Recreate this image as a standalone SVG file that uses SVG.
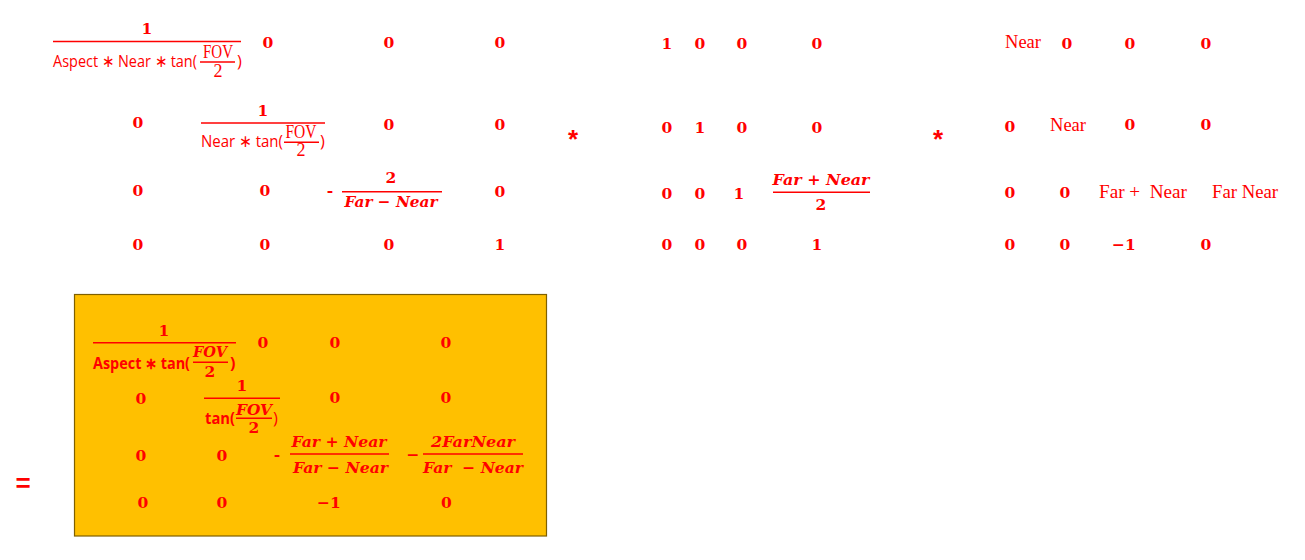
<svg xmlns="http://www.w3.org/2000/svg" width="1305" height="560" viewBox="0 0 1305 560">
<style>
text{fill:#FF0000;}
.d{font-family:"DejaVu Serif",serif;font-weight:bold;font-size:15.5px;text-anchor:middle;}
.r{font-family:"Liberation Serif",serif;font-size:18px;}
.s{font-family:"Open Sans","Noto Sans",sans-serif;font-size:16.5px;}
.sb{font-family:"Open Sans","Noto Sans",sans-serif;font-size:16px;font-weight:bold;}
.i{font-family:"DejaVu Serif",serif;font-weight:bold;font-style:italic;font-size:15.5px;text-anchor:middle;}
.f{stroke:#FF0000;stroke-width:1.5;fill:none;}
.op{font-family:"Liberation Sans",sans-serif;font-weight:bold;font-size:26px;text-anchor:middle;}
</style>
<rect width="1305" height="560" fill="#FFFFFF"/>

<g id="matrix-perspective">
  <text class="d" x="147" y="33.5">1</text>
  <line class="f" x1="53" y1="41.5" x2="241" y2="41.5"/>
  <text class="s" x="53" y="67" textLength="144" lengthAdjust="spacingAndGlyphs">Aspect ∗ Near ∗ tan(</text>
  <text class="r" x="218" y="57.5" text-anchor="middle" textLength="30" lengthAdjust="spacingAndGlyphs">FOV</text>
  <line class="f" x1="200" y1="62" x2="235" y2="62"/>
  <text class="r" x="218" y="77" text-anchor="middle">2</text>
  <text class="s" x="237" y="67">)</text>
  <text class="d" x="268" y="47.5">0</text>
  <text class="d" x="389" y="47.5">0</text>
  <text class="d" x="500" y="47.5">0</text>

  <text class="d" x="138" y="127.5">0</text>
  <text class="d" x="263" y="116">1</text>
  <line class="f" x1="201" y1="123" x2="325" y2="123"/>
  <text class="s" x="201" y="147" textLength="82" lengthAdjust="spacingAndGlyphs">Near ∗ tan(</text>
  <text class="r" x="301" y="137.5" text-anchor="middle" textLength="31" lengthAdjust="spacingAndGlyphs">FOV</text>
  <line class="f" x1="284" y1="142.3" x2="319" y2="142.3"/>
  <text class="r" x="301" y="156" text-anchor="middle">2</text>
  <text class="s" x="320" y="147">)</text>
  <text class="d" x="389" y="129.5">0</text>
  <text class="d" x="500" y="129.5">0</text>

  <text class="d" x="138" y="195.5">0</text>
  <text class="d" x="265" y="195.5">0</text>
  <text class="d" x="330" y="196">-</text>
  <text class="d" x="391" y="183">2</text>
  <line class="f" x1="342" y1="191.7" x2="442" y2="191.7"/>
  <text class="i" x="391" y="206.5" textLength="93" lengthAdjust="spacingAndGlyphs">Far − Near</text>
  <text class="d" x="500" y="196.5">0</text>

  <text class="d" x="138" y="249.5">0</text>
  <text class="d" x="265" y="249.5">0</text>
  <text class="d" x="389" y="249.5">0</text>
  <text class="d" x="500" y="249.5">1</text>
</g>

<g id="op-mul-1"><text class="op" x="573" y="148">*</text></g>

<g id="matrix-translate">
  <text class="d" x="667" y="49">1</text>
  <text class="d" x="700" y="49">0</text>
  <text class="d" x="742" y="49">0</text>
  <text class="d" x="817" y="49">0</text>

  <text class="d" x="667" y="133">0</text>
  <text class="d" x="700" y="133">1</text>
  <text class="d" x="742" y="133">0</text>
  <text class="d" x="817" y="133">0</text>

  <text class="d" x="667" y="198.5">0</text>
  <text class="d" x="700" y="198.5">0</text>
  <text class="d" x="739" y="198.5">1</text>
  <text class="i" x="821" y="185" textLength="97" lengthAdjust="spacingAndGlyphs">Far + Near</text>
  <line class="f" x1="773" y1="192.3" x2="870" y2="192.3"/>
  <text class="d" x="821" y="210">2</text>

  <text class="d" x="667" y="249.5">0</text>
  <text class="d" x="700" y="249.5">0</text>
  <text class="d" x="742" y="249.5">0</text>
  <text class="d" x="817" y="249.5">1</text>
</g>

<g id="op-mul-2"><text class="op" x="938" y="148">*</text></g>

<g id="matrix-scale">
  <text class="r" x="1005" y="48.3" textLength="36" lengthAdjust="spacingAndGlyphs">Near</text>
  <text class="d" x="1067" y="48.5">0</text>
  <text class="d" x="1130" y="48.5">0</text>
  <text class="d" x="1206" y="48.5">0</text>

  <text class="d" x="1010" y="131.5">0</text>
  <text class="r" x="1050" y="131" textLength="36" lengthAdjust="spacingAndGlyphs">Near</text>
  <text class="d" x="1130" y="129.5">0</text>
  <text class="d" x="1206" y="129.5">0</text>

  <text class="d" x="1010" y="198">0</text>
  <text class="d" x="1065" y="198">0</text>
  <text class="r" x="1099" y="198" xml:space="preserve" textLength="88" lengthAdjust="spacingAndGlyphs">Far +  Near</text>
  <text class="r" x="1212" y="198" textLength="66" lengthAdjust="spacingAndGlyphs">Far Near</text>

  <text class="d" x="1010" y="249.5">0</text>
  <text class="d" x="1065" y="249.5">0</text>
  <text class="d" x="1124" y="249.5">−1</text>
  <text class="d" x="1206" y="249.5">0</text>
</g>

<g id="op-equals"><text class="op" x="23" y="492">=</text></g>

<g id="result-matrix">
  <rect x="74.5" y="294.5" width="472" height="241.5" fill="#FFC000" stroke="#7F6000" stroke-width="1.2"/>
  <text class="d" x="164" y="335.5">1</text>
  <line class="f" x1="93" y1="342.7" x2="236" y2="342.7"/>
  <text class="sb" x="93" y="369" textLength="97" lengthAdjust="spacingAndGlyphs">Aspect ∗ tan(</text>
  <text class="i" x="210" y="357" textLength="34" lengthAdjust="spacingAndGlyphs">FOV</text>
  <line class="f" x1="193" y1="362.3" x2="228" y2="362.3"/>
  <text class="d" x="210" y="377">2</text>
  <text class="sb" x="230" y="369">)</text>
  <text class="d" x="263" y="347.5">0</text>
  <text class="d" x="335" y="347.5">0</text>
  <text class="d" x="446" y="347.5">0</text>

  <text class="d" x="141" y="403.5">0</text>
  <text class="d" x="242" y="390.5">1</text>
  <line class="f" x1="204" y1="398.3" x2="280" y2="398.3"/>
  <text class="sb" x="205" y="424" textLength="30" lengthAdjust="spacingAndGlyphs">tan(</text>
  <text class="i" x="254" y="414.5" textLength="36" lengthAdjust="spacingAndGlyphs">FOV</text>
  <line class="f" x1="236" y1="418.3" x2="272" y2="418.3"/>
  <text class="d" x="254" y="433">2</text>
  <text class="s" x="273" y="424">)</text>
  <text class="d" x="335" y="402.5">0</text>
  <text class="d" x="446" y="402.5">0</text>

  <text class="d" x="141" y="460.5">0</text>
  <text class="d" x="222" y="460.5">0</text>
  <text class="d" x="277" y="460">-</text>
  <text class="i" x="339" y="446.5" textLength="95" lengthAdjust="spacingAndGlyphs">Far + Near</text>
  <line class="f" x1="290" y1="454" x2="389" y2="454"/>
  <text class="i" x="340.5" y="472.5" textLength="95" lengthAdjust="spacingAndGlyphs">Far − Near</text>
  <text class="d" x="413" y="460">−</text>
  <text class="i" x="473" y="446.5" textLength="84" lengthAdjust="spacingAndGlyphs">2FarNear</text>
  <line class="f" x1="423" y1="454" x2="523" y2="454"/>
  <text class="i" x="473" y="472.5" xml:space="preserve" textLength="100" lengthAdjust="spacingAndGlyphs">Far  − Near</text>

  <text class="d" x="143" y="508">0</text>
  <text class="d" x="222" y="508">0</text>
  <text class="d" x="329" y="508">−1</text>
  <text class="d" x="446.5" y="508">0</text>
</g>
</svg>
